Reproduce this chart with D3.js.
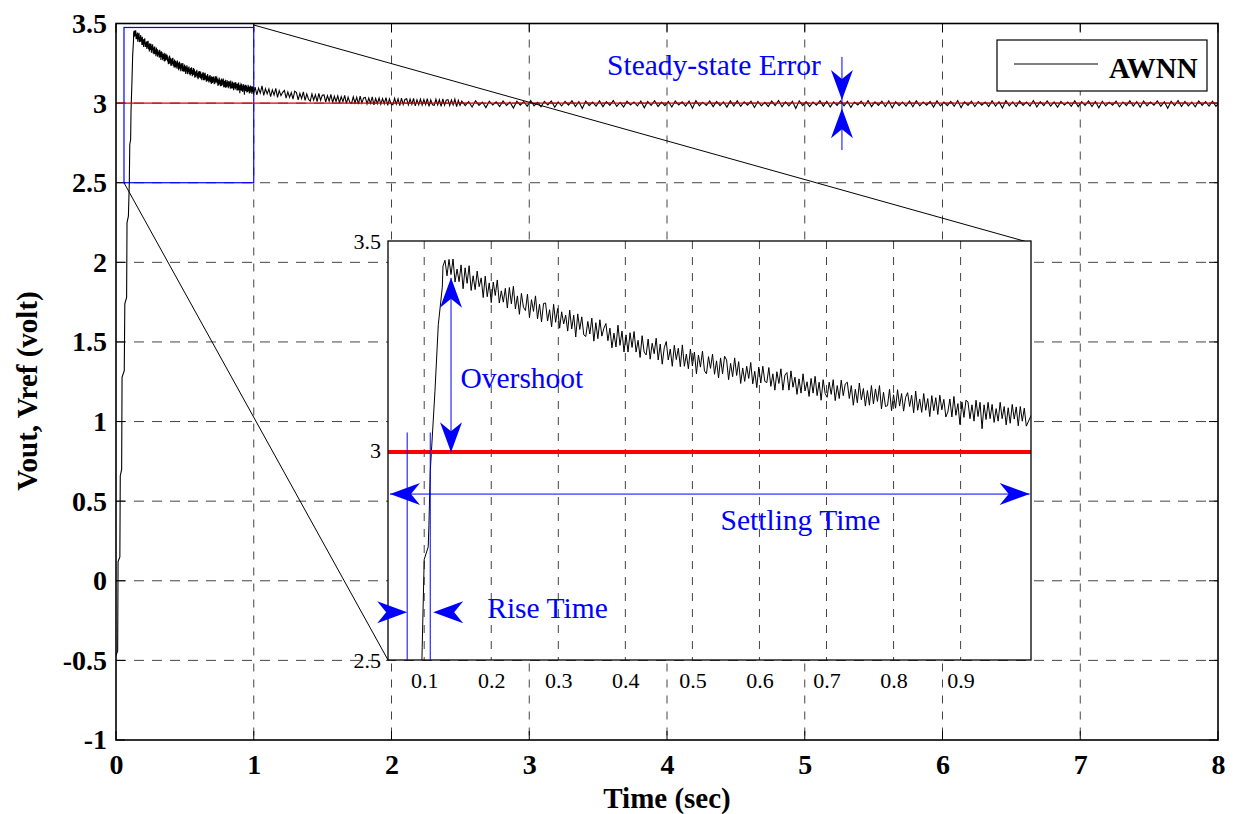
<!DOCTYPE html>
<html><head><meta charset="utf-8">
<script src="https://cdn.jsdelivr.net/npm/d3@7"></script>
<style>body{margin:0;background:#fff}svg{display:block}</style>
</head><body><svg id="c" width="1234" height="814"></svg>
<script>
// ---------------- DATA ----------------
const xTicks = [0,1,2,3,4,5,6,7,8];
const yTicks = [-1,-0.5,0,0.5,1,1.5,2,2.5,3,3.5];
const yTickLabels = ["-1","-0.5","0","0.5","1","1.5","2","2.5","3","3.5"];
const insetXTicks = [0.1,0.2,0.3,0.4,0.5,0.6,0.7,0.8,0.9];
const insetYTicks = [2.5,3,3.5];
const vref = 3;
const seriesName = "AWNN";

// rising edge of Vout (time s, volt)
const riseT = [0.000,0.012,0.015,0.028,0.031,0.041,0.044,0.060,0.064,0.077,0.080,0.090,0.0966,0.097,0.100,0.106,0.107,0.109,0.116,0.121,0.127,0.128];
const riseV = [-0.47,-0.44,0.12,0.15,0.66,0.70,1.28,1.32,1.74,1.78,2.25,2.29,2.50,2.53,2.74,2.77,2.82,2.95,3.14,3.30,3.39,3.44];

// overshoot decay, sampled every 3 ms from t = 0.131 s
const decayT0 = 0.131, decayDt = 0.003;
const decayV = [
3.454,3.417,3.456,3.420,3.457,3.402,3.433,3.403,3.443,3.386,
3.436,3.399,3.441,3.382,3.417,3.384,3.428,3.391,3.412,3.365,
3.416,3.367,3.400,3.353,3.402,3.370,3.407,3.352,3.381,3.354,
3.387,3.340,3.389,3.350,3.392,3.338,3.369,3.325,3.375,3.342,
3.334,3.373,3.317,3.360,3.332,3.369,3.314,3.349,3.307,3.351,
3.352,3.309,3.336,3.295,3.349,3.306,3.339,3.292,3.331,3.302,
3.323,3.285,3.335,3.290,3.323,3.271,3.326,3.289,3.319,3.276,
3.272,3.308,3.278,3.316,3.261,3.305,3.267,3.312,3.273,3.292,
3.303,3.262,3.292,3.245,3.280,3.247,3.299,3.251,3.285,3.235,
3.276,3.235,3.281,3.246,3.284,3.235,3.263,3.222,3.274,3.235,
3.228,3.266,3.218,3.256,3.231,3.268,3.216,3.254,3.206,3.245,
3.260,3.216,3.242,3.201,3.251,3.217,3.244,3.200,3.252,3.201,
3.230,3.195,3.242,3.202,3.235,3.183,3.228,3.199,3.237,3.190,
3.183,3.224,3.196,3.230,3.182,3.214,3.173,3.221,3.183,3.225,
3.216,3.169,3.208,3.176,3.221,3.179,3.212,3.160,3.197,3.165,
3.201,3.172,3.210,3.159,3.189,3.150,3.199,3.161,3.201,3.165,
3.162,3.198,3.153,3.183,3.144,3.188,3.160,3.195,3.144,3.180,
3.186,3.144,3.190,3.151,3.175,3.134,3.171,3.137,3.183,3.142,
3.164,3.129,3.172,3.137,3.177,3.131,3.163,3.120,3.169,3.136,
3.127,3.163,3.134,3.169,3.119,3.155,3.124,3.168,3.131,3.159,
3.163,3.124,3.155,3.108,3.146,3.114,3.161,3.121,3.148,3.106,
3.143,3.108,3.155,3.111,3.147,3.117,3.155,3.099,3.139,3.105,
3.107,3.146,3.095,3.133,3.101,3.145,3.106,3.136,3.094,3.127,
3.138,3.105,3.132,3.090,3.142,3.096,3.123,3.091,3.136,3.096,
3.124,3.081,3.131,3.095,3.126,3.086,3.132,3.097,3.122,3.080,
3.092,3.123,3.080,3.129,3.084,3.112,3.062,3.116,3.079,3.120,
3.116,3.076,3.109,3.070,3.120,3.081,3.115,3.052,3.109,3.074,
3.115,3.076,3.110,3.067,3.100,3.070,3.115,3.076,3.105,3.061,
3.102,3.065,3.110,3.075,3.104,3.059,3.105,3.070,3.101,3.058];

// settling tail, sampled every 12.5 ms from t = 1.010 s
const tailT0 = 1.010, tailDt = 0.0125;
const tailV = [
3.101,3.052,3.094,3.063,3.108,3.049,3.090,3.058,
3.089,3.041,3.083,3.050,3.092,3.036,3.078,3.047,
3.068,3.080,3.031,3.070,3.036,3.066,3.025,3.075,
3.066,3.020,3.061,3.028,3.070,3.017,3.058,3.024,
3.013,3.058,3.019,3.053,3.009,3.061,3.018,3.049,
3.051,3.007,3.047,3.012,3.055,3.003,3.043,3.010,
3.046,3.001,3.041,3.008,3.049,2.997,3.037,3.004,
2.998,3.040,3.002,3.036,2.993,3.044,3.000,3.033,
3.036,2.995,3.032,2.999,3.039,2.989,3.029,2.996,
3.032,2.993,3.029,2.996,3.035,2.986,3.026,2.994,
2.990,3.030,2.994,3.027,2.984,3.032,2.991,3.023,
3.027,2.989,3.025,2.992,3.030,2.982,3.021,2.990,
3.025,2.988,3.023,2.990,3.028,2.980,3.020,2.989,
2.986,3.024,2.989,3.021,2.979,3.027,2.987,3.018,
3.022,2.985,3.020,2.988,3.025,2.978,3.017,2.986];

// steady state, sampled every 25 ms from t = 2.510 s
const steadyT0 = 2.510, steadyDt = 0.025;
const steadyV = [
3.013,2.984,3.009,2.976,3.015,2.986,3.007,2.972,3.012,2.988,
3.008,2.979,3.014,2.985,3.006,2.969,3.012,2.987,3.010,2.980,
3.016,2.983,3.005,2.977,3.011,2.989,3.014,2.974,3.008,2.982,
3.011,2.987,3.015,2.979,3.009,2.966,3.013,2.984,3.006,2.981,
3.014,2.978,3.010,2.986,3.016,2.980,3.005,2.975,3.012,2.988,
3.007,2.982,3.013,2.971,3.010,2.986,3.015,2.979,3.006,2.984,
3.011,2.976,3.014,2.988,3.008,2.981,3.012,2.968,3.016,2.983,
3.006,2.986,3.013,2.978,3.010,2.984,3.007,2.975,3.014,2.982,
3.015,2.980,3.008,2.987,3.012,2.973,3.010,2.983,3.005,2.979,
3.013,2.985,3.016,2.977,3.007,2.982,3.011,2.967,3.014,2.984,
3.009,2.978,3.006,2.987,3.015,2.981,3.012,2.976,3.008,2.986,
3.014,2.983,3.011,2.973,3.007,2.988,3.013,2.980,3.016,2.978,
3.008,2.986,3.012,2.979,3.014,2.970,3.009,2.984,3.006,2.981,
3.013,2.977,3.015,2.983,3.007,2.987,3.010,2.975,3.014,2.982,
3.006,2.984,3.011,2.980,3.016,2.972,3.008,2.986,3.012,2.979,
3.010,2.987,3.007,2.978,3.014,2.982,3.009,2.969,3.015,2.983,
3.008,2.979,3.013,2.986,3.006,2.981,3.016,2.976,3.009,2.984,
3.014,2.982,3.008,2.974,3.011,2.988,3.007,2.980,3.015,2.978,
3.009,2.986,3.014,2.979,3.010,2.971,3.012,2.983,3.006,2.987,
3.012,2.977,3.007,2.984,3.015,2.981,3.009,2.975,3.013,2.982,
3.007,2.987,3.014,2.980,3.008,2.967,3.011,2.984,3.016,2.979,
3.010,2.983,3.006,2.977,3.014,2.986,3.009,2.981,3.012,2.980,
3.006];

// zoom window (data coordinates)
const zoomBox = {x0:0.058, x1:1.0, y0:2.5, y1:3.475};
const insetXDomain = [0.046, 1.005];
const insetYDomain = [2.5, 3.5];

// ---------------- BUILD ----------------
const series = riseT.map((t,i)=>[t, riseV[i]])
  .concat(decayV.map((v,i)=>[decayT0 + i*decayDt, v]))
  .concat(tailV.map((v,i)=>[tailT0 + i*tailDt, v]))
  .concat(steadyV.map((v,i)=>[steadyT0 + i*steadyDt, v]));

const FONT = "'Liberation Serif','Times New Roman',Times,serif";
const BLUE = "#0000ff";
const svg = d3.select('#c').style('font-family', FONT);
svg.append('rect').attr('width',1234).attr('height',814).attr('fill','#fff');
const defs = svg.append('defs');

const M = {left:116, right:1218, top:23.5, bottom:740};
const x = d3.scaleLinear().domain([0,8]).range([M.left, M.right]);
const y = d3.scaleLinear().domain([-1,3.5]).range([M.bottom, M.top]);
defs.append('clipPath').attr('id','mc').append('rect')
  .attr('x',M.left).attr('y',M.top).attr('width',M.right-M.left).attr('height',M.bottom-M.top);

const main = svg.append('g');
// grid
const gridV = sel => sel.attr('stroke','#444').attr('stroke-width',1).attr('stroke-dasharray','8,8').attr('fill','none');
const gridH = sel => sel.attr('stroke','#444').attr('stroke-width',1).attr('stroke-dasharray','10,8').attr('fill','none');
main.selectAll('.gx').data(xTicks.slice(1,-1)).join('line')
  .attr('x1',d=>x(d)).attr('x2',d=>x(d)).attr('y1',y(3.5)).attr('y2',y(-1)).call(gridV);
main.selectAll('.gy').data(yTicks.slice(1,-1)).join('line')
  .attr('y1',d=>y(d)).attr('y2',d=>y(d)).attr('x1',x(0)).attr('x2',x(8)).call(gridH);

// ticks inward
const TL = 9;
main.selectAll('.tb').data(xTicks).join('line').attr('x1',d=>x(d)).attr('x2',d=>x(d)).attr('y1',y(-1)).attr('y2',y(-1)-TL).attr('stroke','#000');
main.selectAll('.tt').data(xTicks).join('line').attr('x1',d=>x(d)).attr('x2',d=>x(d)).attr('y1',y(3.5)).attr('y2',y(3.5)+TL).attr('stroke','#000');
main.selectAll('.tl').data(yTicks).join('line').attr('y1',d=>y(d)).attr('y2',d=>y(d)).attr('x1',x(0)).attr('x2',x(0)+TL).attr('stroke','#000');
main.selectAll('.tr').data(yTicks).join('line').attr('y1',d=>y(d)).attr('y2',d=>y(d)).attr('x1',x(8)).attr('x2',x(8)-TL).attr('stroke','#000');

// zoom box
main.append('rect').attr('x',x(zoomBox.x0)).attr('y',y(zoomBox.y1))
  .attr('width',x(zoomBox.x1)-x(zoomBox.x0)).attr('height',y(zoomBox.y0)-y(zoomBox.y1))
  .attr('fill','none').attr('stroke',BLUE).attr('stroke-width',1.2);

// series
const line = d3.line().x(d=>x(d[0])).y(d=>y(d[1]));
main.append('g').attr('clip-path','url(#mc)').append('path').datum(series).attr('d',line)
  .attr('fill','none').attr('stroke','#000').attr('stroke-width',1.1);
// reference
main.append('line').attr('x1',x(0)).attr('x2',x(8)).attr('y1',y(vref)).attr('y2',y(vref)).attr('stroke','#e00000').attr('stroke-width',1.2);

// frame
main.append('rect').attr('x',M.left).attr('y',M.top).attr('width',M.right-M.left).attr('height',M.bottom-M.top)
  .attr('fill','none').attr('stroke','#000').attr('stroke-width',1.6);

// axes labels
const xAxis = d3.axisBottom(x).tickValues(xTicks).tickSize(0).tickPadding(14).tickFormat(d3.format('d'));
const gxA = svg.append('g').attr('transform',`translate(0,${M.bottom})`).call(xAxis);
const yAxis = d3.axisLeft(y).tickValues(yTicks).tickSize(0).tickPadding(9).tickFormat((d,i)=>yTickLabels[i]);
const gyA = svg.append('g').attr('transform',`translate(${M.left},0)`).call(yAxis);
[gxA,gyA].forEach(g=>{g.select('.domain').remove();
  g.selectAll('text').attr('font-family',FONT).attr('font-size',28).attr('font-weight','bold').attr('fill','#000');});

svg.append('text').attr('x',(M.left+M.right)/2).attr('y',808).attr('text-anchor','middle')
  .attr('font-size',29).attr('font-weight','bold').text('Time (sec)');
svg.append('text').attr('transform','translate(37,391) rotate(-90)').attr('text-anchor','middle')
  .attr('font-size',29).attr('font-weight','bold').text('Vout, Vref (volt)');

// ---------------- INSET ----------------
const I = {left:388, right:1031, top:241, bottom:660};
const xi = d3.scaleLinear().domain(insetXDomain).range([I.left, I.right]);
const yi = d3.scaleLinear().domain(insetYDomain).range([I.bottom, I.top]);

// connectors
svg.append('line').attr('x1',x(zoomBox.x1)).attr('y1',M.top+1.5).attr('x2',I.right).attr('y2',I.top+2).attr('stroke','#000').attr('stroke-width',1);
svg.append('line').attr('x1',x(zoomBox.x0)).attr('y1',y(zoomBox.y0)).attr('x2',I.left).attr('y2',I.bottom).attr('stroke','#000').attr('stroke-width',1);

const ins = svg.append('g');
ins.append('rect').attr('x',I.left).attr('y',I.top).attr('width',I.right-I.left).attr('height',I.bottom-I.top).attr('fill','#fff');
defs.append('clipPath').attr('id','ic').append('rect')
  .attr('x',I.left).attr('y',I.top).attr('width',I.right-I.left).attr('height',I.bottom-I.top);
ins.selectAll('.igx').data(insetXTicks).join('line')
  .attr('x1',d=>xi(d)).attr('x2',d=>xi(d)).attr('y1',I.top).attr('y2',I.bottom).call(gridV);
ins.selectAll('.igy').data(insetYTicks.slice(1,-1)).join('line')
  .attr('y1',d=>yi(d)).attr('y2',d=>yi(d)).attr('x1',I.left).attr('x2',I.right).call(gridH);
const linei = d3.line().x(d=>xi(d[0])).y(d=>yi(d[1]));
const clipG = ins.append('g').attr('clip-path','url(#ic)');
clipG.append('path').datum(series).attr('d',linei).attr('fill','none').attr('stroke','#000').attr('stroke-width',1);
clipG.append('line').attr('x1',I.left).attr('x2',I.right).attr('y1',yi(vref)+1.5).attr('y2',yi(vref)+1.5).attr('stroke','#ff0000').attr('stroke-width',4);
ins.append('rect').attr('x',I.left).attr('y',I.top).attr('width',I.right-I.left).attr('height',I.bottom-I.top)
  .attr('fill','none').attr('stroke','#000').attr('stroke-width',1.3);

const xiAxis = d3.axisBottom(xi).tickValues(insetXTicks).tickSize(0).tickPadding(12).tickFormat(d3.format('.1f'));
const giX = svg.append('g').attr('transform',`translate(0,${I.bottom})`).call(xiAxis);
const yiAxis = d3.axisLeft(yi).tickValues(insetYTicks).tickSize(0).tickPadding(7).tickFormat(d=>String(d));
const giY = svg.append('g').attr('transform',`translate(${I.left},0)`).call(yiAxis);
[giX,giY].forEach(g=>{g.select('.domain').remove();
  g.selectAll('text').attr('font-family',FONT).attr('font-size',22).attr('fill','#000');});

// ---------------- LEGEND ----------------
const lg = svg.append('g');
lg.append('rect').attr('x',997).attr('y',40).attr('width',210).attr('height',51).attr('fill','#fff').attr('stroke','#000').attr('stroke-width',1.2);
lg.append('line').attr('x1',1014).attr('x2',1098).attr('y1',64).attr('y2',64).attr('stroke','#000').attr('stroke-width',1);
lg.append('text').attr('x',1109).attr('y',78).attr('font-size',29).attr('font-weight','bold').text(seriesName);

// ---------------- ANNOTATIONS ----------------
const ann = svg.append('g');
function head(tx, ty, dx, dy){
  const L=30, W=11, N=9, px=-dy, py=dx;
  const pts = [[tx,ty],[tx-L*dx+W*px, ty-L*dy+W*py],[tx-(L-N)*dx, ty-(L-N)*dy],[tx-L*dx-W*px, ty-L*dy-W*py]];
  ann.append('path').attr('d','M'+pts.map(p=>p.join(',')).join('L')+'Z').attr('fill',BLUE);
}
function bl(x1,y1,x2,y2){ann.append('line').attr('x1',x1).attr('y1',y1).attr('x2',x2).attr('y2',y2).attr('stroke',BLUE).attr('stroke-width',1);}
function txt(xp,yp,s){ann.append('text').attr('x',xp).attr('y',yp).attr('font-size',29.5).attr('fill',BLUE).text(s);}

// steady-state error
const sx = x(5.27);
bl(sx, y(3.29), sx, y(2.705));
head(sx, y(3.02), 0, 1);
head(sx, y(2.968), 0, -1);
txt(x(3.565), y(3.176), 'Steady-state Error');

// overshoot
const ox = xi(0.140);
bl(ox, yi(3.412), ox, yi(2.996));
head(ox, yi(3.412), 0, -1);
head(ox, yi(2.996), 0, 1);
txt(xi(0.154), yi(3.149), 'Overshoot');

// settling time
const sy = yi(2.896);
bl(xi(0.049), sy, xi(1.003), sy);
head(xi(0.049), sy, -1, 0);
head(xi(1.003), sy, 1, 0);
txt(xi(0.542), yi(2.81), 'Settling Time');

// rise time
bl(xi(0.0746), yi(3.043), xi(0.0746), yi(2.5));
bl(xi(0.109), yi(3.043), xi(0.109), yi(2.5));
head(xi(0.0746), yi(2.614), 1, 0);
head(xi(0.1134), yi(2.614), -1, 0);
txt(xi(0.194), yi(2.6), 'Rise Time');
</script></body></html>
